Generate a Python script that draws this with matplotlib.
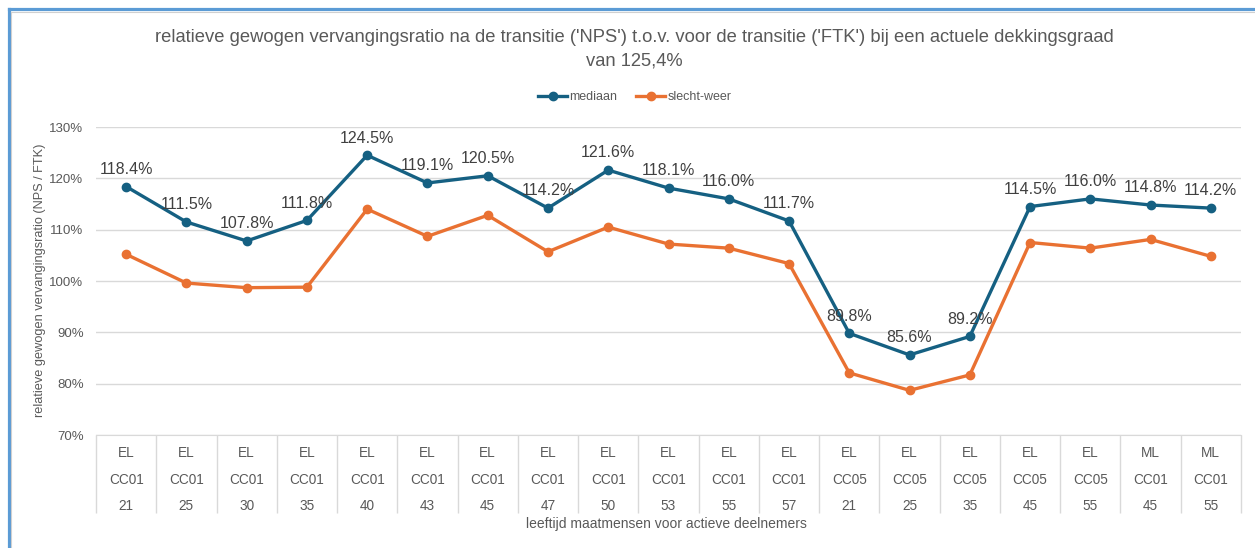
import matplotlib
matplotlib.use("Agg")
import matplotlib.pyplot as plt
from matplotlib.lines import Line2D

# data
plans = ["EL"] * 17 + ["ML", "ML"]
regelingen = ["CC01"] * 12 + ["CC05"] * 5 + ["CC01", "CC01"]
leeftijden = ["21", "25", "30", "35", "40", "43", "45", "47", "50", "53", "55", "57",
              "21", "25", "35", "45", "55", "45", "55"]
mediaan = [118.4, 111.5, 107.8, 111.8, 124.5, 119.1, 120.5, 114.2, 121.6, 118.1,
           116.0, 111.7, 89.8, 85.6, 89.2, 114.5, 116.0, 114.8, 114.2]
slecht_weer = [105.2, 99.6, 98.7, 98.8, 114.0, 108.7, 112.8, 105.7, 110.5, 107.2,
               106.4, 103.4, 82.1, 78.7, 81.7, 107.5, 106.4, 108.1, 104.8]

BLUE = "#156082"
ORANGE = "#E97132"
GREY = "#595959"
GRID = "#D9D9D9"

plt.rcParams["font.family"] = ["Liberation Sans", "DejaVu Sans"]

W, H = 1255, 548
fig = plt.figure(figsize=(W / 100, H / 100), dpi=100)
ax = fig.add_axes([96 / W, 1 - 435 / H, (1241 - 96) / W, (435 - 127) / H])

x = list(range(len(mediaan)))
ax.plot(x, mediaan, color=BLUE, lw=2.4, marker="o", ms=6, label="mediaan", zorder=3)
ax.plot(x, slecht_weer, color=ORANGE, lw=2.4, marker="o", ms=6, label="slecht-weer", zorder=3)

for xi, v in zip(x, mediaan):
    ax.annotate(f"{v:.1f}%", (xi, v), xytext=(0, 7), textcoords="offset points",
                ha="center", va="bottom", fontsize=11.5, color="#404040", zorder=4)

ax.set_ylim(70, 130)
ax.set_xlim(-0.5, len(x) - 0.5)
ax.set_yticks(range(70, 131, 10))
ax.set_yticklabels([f"{t}%" for t in range(70, 131, 10)], color=GREY, fontsize=9.5)
ax.tick_params(axis="y", length=0, pad=9)
ax.set_xticks([])
ax.grid(axis="y", color=GRID, lw=1)
ax.set_axisbelow(True)
for s in ["left", "right", "top"]:
    ax.spines[s].set_visible(False)
ax.spines["bottom"].set_color(GRID)

# multi-level category axis
trans = ax.get_xaxis_transform()
axh = 435 - 127
ax.vlines([i - 0.5 for i in range(len(x) + 1)], 0, -78 / axh, transform=trans,
          color=GRID, lw=1, clip_on=False)
for xi in x:
    for row, lab in zip([18, 45, 71], [plans[xi], regelingen[xi], leeftijden[xi]]):
        ax.text(xi, -row / axh, lab, transform=trans, ha="center", va="center",
                fontsize=9.8, color=GREY)

fig.text(666 / W, 1 - 524 / H, "leeftijd maatmensen voor actieve deelnemers",
         ha="center", va="center", fontsize=10, color=GREY)
fig.text(40 / W, 1 - 280 / H, "relatieve gewogen vervangingsratio (NPS / FTK)",
         rotation=90, ha="center", va="center", fontsize=9.2, color=GREY)

fig.text(634 / W, 1 - 37 / H,
         "relatieve gewogen vervangingsratio na de transitie ('NPS') t.o.v. voor de transitie ('FTK') bij een actuele dekkingsgraad",
         ha="center", va="center", fontsize=13.2, color=GREY)
fig.text(634 / W, 1 - 61 / H, "van 125,4%", ha="center", va="center", fontsize=13.2, color=GREY)

fig.legend(loc="center", bbox_to_anchor=(635 / W, 1 - 97 / H), ncol=2, frameon=False,
           fontsize=9, labelcolor=GREY, handlelength=2.3, handletextpad=0.2,
           columnspacing=1.5)

# outer frame (blue line top and left)
fig.add_artist(Line2D([9 / W, 9 / W], [0, 1 - 9 / H], color="#5B9BD5", lw=2.3,
                      transform=fig.transFigure))
fig.add_artist(Line2D([9 / W, 1], [1 - 9 / H, 1 - 9 / H], color="#5B9BD5", lw=2.3,
                      transform=fig.transFigure))
fig.add_artist(Line2D([11.5 / W, 11.5 / W], [0, 1 - 11.5 / H], color="#D0D0D0", lw=0.8,
                      transform=fig.transFigure))
fig.add_artist(Line2D([11.5 / W, 1], [1 - 11.5 / H, 1 - 11.5 / H], color="#D0D0D0", lw=0.8,
                      transform=fig.transFigure))

fig.savefig("out.png", dpi=100)
